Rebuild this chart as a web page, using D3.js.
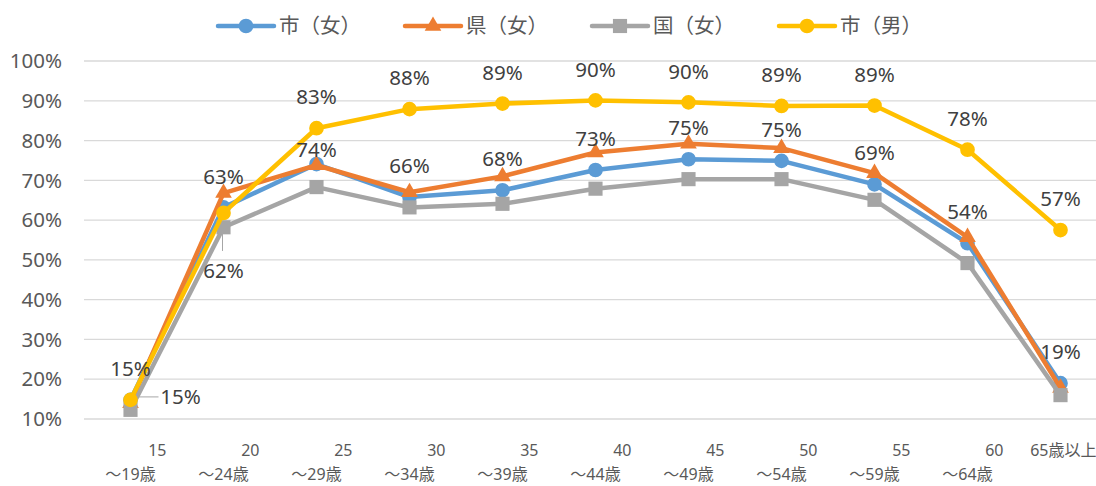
<!DOCTYPE html>
<html>
<head>
<meta charset="utf-8">
<script src="https://cdn.jsdelivr.net/npm/d3@7"></script>
<style>
  body { margin: 0; background: #fff; }
  text { font-family: "Noto Sans", "Noto Sans CJK JP", sans-serif; }
</style>
</head>
<body>
<div id="chart"></div>
<script>
// categories (two-line x labels)
let catTop = ["15", "20", "25", "30", "35", "40", "45", "50", "55", "60", "65歳以上"];
let catBottom = ["〜19歳", "〜24歳", "〜29歳", "〜34歳", "〜39歳", "〜44歳", "〜49歳", "〜54歳", "〜59歳", "〜64歳", ""];

// series values
let shiF  = [0.148, 0.632, 0.741, 0.658, 0.675, 0.726, 0.753, 0.749, 0.690, 0.542, 0.190];
let kenF  = [0.140, 0.668, 0.738, 0.670, 0.710, 0.770, 0.792, 0.781, 0.718, 0.557, 0.178];
let kuniF = [0.123, 0.582, 0.683, 0.632, 0.641, 0.679, 0.703, 0.703, 0.651, 0.492, 0.160];
let shiM  = [0.148, 0.618, 0.831, 0.879, 0.893, 0.901, 0.896, 0.887, 0.888, 0.777, 0.575];

let seriesNames = ["市（女）", "県（女）", "国（女）", "市（男）"];
let yTicks = [0.1, 0.2, 0.3, 0.4, 0.5, 0.6, 0.7, 0.8, 0.9, 1.0];

let width = 1096, height = 486;

let series = [
  { name: seriesNames[0], values: shiF,  color: "#5B9BD5", marker: "circle",   labels: true },
  { name: seriesNames[1], values: kenF,  color: "#ED7D31", marker: "triangle", labels: false },
  { name: seriesNames[2], values: kuniF, color: "#A5A5A5", marker: "square",   labels: false },
  { name: seriesNames[3], values: shiM,  color: "#FFC000", marker: "circle",   labels: true }
];

// label placement tweaks (like Excel's moved labels)
let labelTweak = {
  "0-2": { dx: 0, dy: -14 },
  "3-0": { dx: 50, dy: -3, leader: "h" },
  "3-1": { dx: 0, dy: 58, leader: "v" }
};

let svg = d3.select("#chart").append("svg")
  .attr("width", width)
  .attr("height", height);

let x = d3.scaleBand()
  .domain(catTop)
  .range([84, 1107])
  .padding(0);
let cx = function(i) { return x(catTop[i]) + x.bandwidth() / 2; };

let y = d3.scaleLinear()
  .domain([0.1, 1.0])
  .range([419, 61]);

// gridlines
svg.append("g").selectAll("line")
  .data(yTicks)
  .enter().append("line")
  .attr("x1", 84).attr("x2", width)
  .attr("y1", d => y(d)).attr("y2", d => y(d))
  .attr("stroke", "#D9D9D9")
  .attr("stroke-width", 1.3);

// y labels
svg.append("g").selectAll("text")
  .data(yTicks)
  .enter().append("text")
  .attr("x", 62)
  .attr("y", d => y(d))
  .attr("dy", "0.35em")
  .attr("text-anchor", "end")
  .attr("font-size", 20.5)
  .attr("fill", "#595959")
  .text(d => Math.round(d * 100) + "%");

// x labels
let xl = svg.append("g");
catTop.forEach(function(c, i) {
  xl.append("text")
    .attr("x", cx(i) + 36)
    .attr("y", 450)
    .attr("dy", "0.35em")
    .attr("text-anchor", "end")
    .attr("font-size", 16)
    .attr("fill", "#595959")
    .text(c);
  xl.append("text")
    .attr("x", cx(i))
    .attr("y", 474)
    .attr("dy", "0.35em")
    .attr("text-anchor", "middle")
    .attr("font-size", 16)
    .attr("fill", "#595959")
    .text(catBottom[i]);
});

function symbolFor(m) {
  if (m === "triangle") return d3.symbol().type(d3.symbolTriangle).size(120);
  if (m === "square") return d3.symbol().type(d3.symbolSquare).size(200);
  return d3.symbol().type(d3.symbolCircle).size(170);
}

let line = d3.line()
  .x((d, i) => cx(i))
  .y(d => y(d));

series.forEach(function(s) {
  let g = svg.append("g");
  g.append("path")
    .attr("d", line(s.values))
    .attr("fill", "none")
    .attr("stroke", s.color)
    .attr("stroke-width", 4.5)
    .attr("stroke-linejoin", "round")
    .attr("stroke-linecap", "round");
  g.selectAll("path.m")
    .data(s.values)
    .enter().append("path")
    .attr("class", "m")
    .attr("d", symbolFor(s.marker))
    .attr("transform", (d, i) => "translate(" + cx(i) + "," + y(d) + ")")
    .attr("fill", s.color);
});

// data labels
let lg = svg.append("g");
series.forEach(function(s, si) {
  if (!s.labels) return;
  s.values.forEach(function(v, i) {
    let t = labelTweak[si + "-" + i] || { dx: 0, dy: -31 };
    let px = cx(i), py = y(v);
    let lx = px + t.dx, ly = py + t.dy;
    if (t.leader === "h") {
      lg.append("line")
        .attr("x1", px + 7).attr("x2", lx - 22)
        .attr("y1", ly).attr("y2", ly)
        .attr("stroke", "#A6A6A6").attr("stroke-width", 1);
    }
    if (t.leader === "v") {
      lg.append("line")
        .attr("x1", px - 1).attr("x2", px - 1)
        .attr("y1", py + 18).attr("y2", ly - 20)
        .attr("stroke", "#A6A6A6").attr("stroke-width", 1);
    }
    lg.append("text")
      .attr("x", lx)
      .attr("y", ly)
      .attr("dy", "0.35em")
      .attr("text-anchor", "middle")
      .attr("font-size", 20.5)
      .attr("fill", "#404040")
      .text(Math.round(v * 100) + "%");
  });
});

// legend
let legend = svg.append("g");
series.forEach(function(s, i) {
  let mx = 246 + i * 187, ly = 26;
  legend.append("line")
    .attr("x1", mx - 28).attr("x2", mx + 28)
    .attr("y1", ly).attr("y2", ly)
    .attr("stroke", s.color)
    .attr("stroke-width", 4.5)
    .attr("stroke-linecap", "round");
  legend.append("path")
    .attr("d", symbolFor(s.marker))
    .attr("transform", "translate(" + mx + "," + ly + ")")
    .attr("fill", s.color);
  legend.append("text")
    .attr("x", mx + 33)
    .attr("y", ly)
    .attr("dy", "0.35em")
    .attr("font-size", 20.5)
    .attr("fill", "#595959")
    .text(s.name);
});
</script>
</body>
</html>
